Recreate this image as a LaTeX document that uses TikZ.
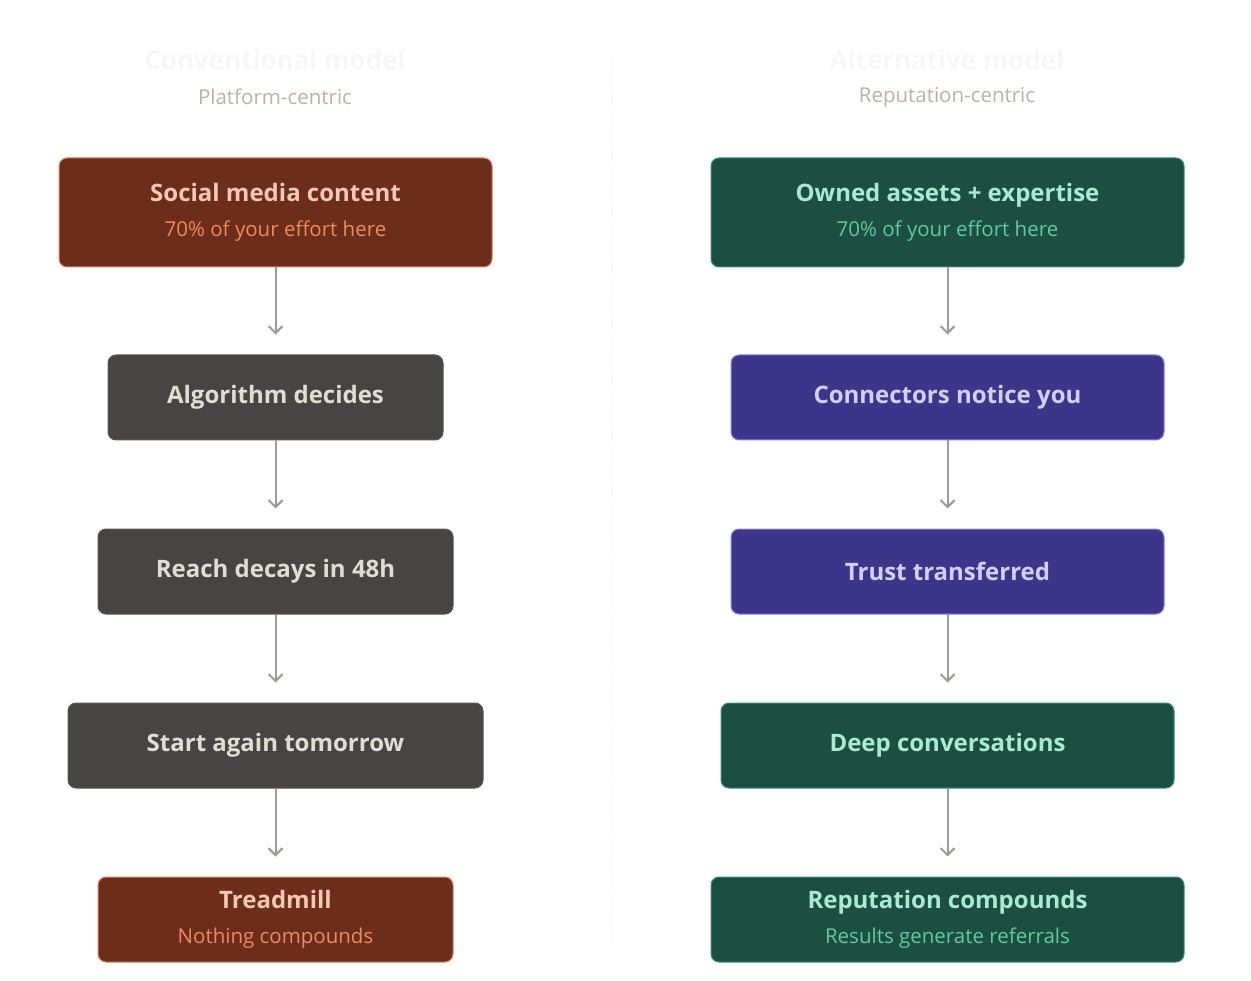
\documentclass[tikz,border=0pt]{standalone}
\usepackage{fontspec}
\setmainfont{Open Sans}
\newcommand\semib{\bfseries}
\usetikzlibrary{arrows.meta}
\begin{document}
\begin{tikzpicture}[x=1pt,y=-1pt,
  box/.style={draw,line width=1pt,rounded corners=8pt,minimum height=#1,inner sep=0pt,align=center},
  br/.style={box=109pt,fill=brn,draw=brnb,text=brnt},
  gr/.style={box=85pt,fill=gry,draw=gryb,text=gryt},
  gn/.style={box=109pt,fill=grn,draw=grnb,text=grnt},
  pu/.style={box=85pt,fill=pur,draw=purb,text=purt},
  mt/.style={font=\semib\fontsize{24}{29}\selectfont},
  two/.style={font=\fontsize{24}{35}\selectfont},
  arr/.style={draw=arrc,line width=2pt,-{Straight Barb[length=7pt,width=14pt]}}]
\definecolor{brn}{HTML}{6C2D1A}\definecolor{brnb}{HTML}{D98360}\definecolor{brnt}{HTML}{F6C8B3}\definecolor{brns}{HTML}{EE8A60}
\definecolor{gry}{HTML}{464544}\definecolor{gryb}{HTML}{5A5856}\definecolor{gryt}{HTML}{E2DDD3}
\definecolor{grn}{HTML}{1C4F42}\definecolor{grnb}{HTML}{3A8E74}\definecolor{grnt}{HTML}{A9EBD1}\definecolor{grns}{HTML}{5FCB9C}
\definecolor{pur}{HTML}{3D358A}\definecolor{purb}{HTML}{8A85E0}\definecolor{purt}{HTML}{D2D0F8}
\definecolor{arrc}{HTML}{9C9A95}
\definecolor{subc}{HTML}{B9B3AB}
\useasboundingbox (0,0) rectangle (1251,981);
\fill[white] (0,0) rectangle (1251,981);
\draw[draw=black!5,dash pattern=on 8pt off 6pt,line width=0.8pt] (611,55) -- (611,945);
\node[text=black!3,font=\semib\fontsize{26}{30}\selectfont] (t1) at (275,60) {Conventional model};
\node[text=subc,font=\fontsize{20.5}{24}\selectfont] (s1) at (275,97) {Platform-centric};
\node[text=black!3,font=\semib\fontsize{26}{30}\selectfont] (t2) at (947,60) {Alternative model};
\node[text=subc,font=\fontsize{20.5}{24}\selectfont] (s2) at (947,97) {Reputation-centric};
% left
\node[br,two,minimum width=433pt] (l1) at (275.5,212.5) {{\semib Social media content}\\{\color{brns}\fontsize{20.5}{24}\selectfont 70\% of your effort here}};
\node[gr,minimum width=335pt,mt] (l2) at (275.5,397.5) {Algorithm decides};
\node[gr,minimum width=355pt,mt] (l3) at (275.5,571.5) {Reach decays in 48h};
\node[gr,minimum width=415pt,mt] (l4) at (275.5,745.5) {Start again tomorrow};
\node[br,two,box=85pt,minimum width=355pt] (l5) at (275.5,919.5) {{\semib Treadmill}\\{\color{brns}\fontsize{20.5}{24}\selectfont Nothing compounds}};
% right
\node[gn,two,minimum width=473pt] (r1) at (947.5,212.5) {{\semib Owned assets + expertise}\\{\color{grns}\fontsize{20.5}{24}\selectfont 70\% of your effort here}};
\node[pu,minimum width=433pt,mt] (r2) at (947.5,397.5) {Connectors notice you};
\node[pu,minimum width=433pt,mt] (r3) at (947.5,571.5) {Trust transferred};
\node[gn,box=85pt,minimum width=453pt,mt] (r4) at (947.5,745.5) {Deep conversations};
\node[gn,two,box=85pt,minimum width=473pt] (r5) at (947.5,919.5) {{\semib Reputation compounds}\\{\color{grns}\fontsize{20.5}{24}\selectfont Results generate referrals}};
\foreach \a/\b in {l1/l2,l2/l3,l3/l4,l4/l5,r1/r2,r2/r3,r3/r4,r4/r5}
  \draw[arr,shorten >=20pt] (\a.south) -- (\b.north);
\end{tikzpicture}
\end{document}
